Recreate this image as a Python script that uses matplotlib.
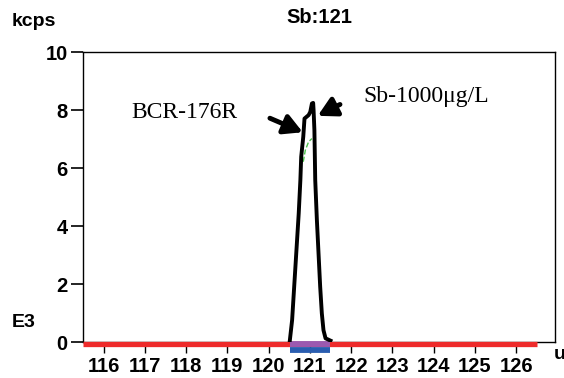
import numpy as np
import matplotlib
matplotlib.use('Agg')
import matplotlib.pyplot as plt

# Dados (massa em u, sinal em kcps x E3)
massa = [120.51, 120.57, 120.61, 120.65, 120.69, 120.73, 120.77, 120.79, 120.84, 120.87,
         120.97, 121.01, 121.05, 121.08, 121.09, 121.11, 121.13, 121.17, 121.21, 121.25,
         121.29, 121.33, 121.38, 121.50]
sinal = [0.0, 0.76, 1.68, 2.60, 3.52, 4.44, 5.59, 6.39, 7.08, 7.71,
         7.83, 7.94, 8.23, 8.25, 8.00, 7.31, 5.59, 4.21, 3.06, 1.91,
         0.99, 0.41, 0.13, 0.05]

# Traço verde parcialmente escondido
massa_verde = [120.84, 120.89, 120.97, 121.05]
sinal_verde = [6.22, 6.62, 6.91, 7.02]
massa_verde2 = [121.09, 121.09]
sinal_verde2 = [6.56, 6.37]

faixa_linha_base = [115.5, 126.5]
faixa_pico = [120.51, 121.5]

xticks = list(range(116, 127))
yticks = [0, 2, 4, 6, 8, 10]

fonte = 'Liberation Sans'
serif = 'Liberation Serif'

fig = plt.figure(figsize=(5.64, 3.78), dpi=100)
ax = fig.add_axes([0.147, 0.095, 0.837, 0.767])

# Linha de base vermelha e barras da janela de integração
ax.plot(faixa_linha_base, [-0.05, -0.05], color='#ee2b2b', lw=3.8, solid_capstyle='butt', clip_on=False, zorder=3)
ax.plot(faixa_pico, [-0.05, -0.05], color='#9b59b0', lw=4.2, solid_capstyle='butt', clip_on=False, zorder=4)
ax.plot(faixa_pico, [-0.27, -0.27], color='#2a5db0', lw=4.2, solid_capstyle='butt', clip_on=False, zorder=4)

# Pico
ax.plot(massa, sinal, color='black', lw=2.8, zorder=5)
ax.plot(massa_verde, sinal_verde, color='#4cc24c', lw=1, ls='--', zorder=4)
ax.plot(massa_verde2, sinal_verde2, color='#4cc24c', lw=1, zorder=4)

ax.set_xlim(115.5, 126.94)
ax.set_ylim(0, 10)
ax.set_xticks(xticks)
ax.set_yticks(yticks)
ax.set_xticklabels([str(t) for t in xticks], fontfamily=fonte, fontweight='bold', fontsize=14.5)
ax.set_yticklabels([str(t) for t in yticks], fontfamily=fonte, fontweight='bold', fontsize=14.5)
ax.tick_params(axis='y', direction='out', length=9, width=1.2, pad=2)
ax.tick_params(axis='x', direction='out', length=8, width=1, pad=3)
for s in ax.spines.values():
    s.set_linewidth(1)

ax.set_title('Sb:121', fontfamily=fonte, fontweight='bold', fontsize=14.5, pad=21)

# Setas e anotações
seta = dict(arrowstyle='-|>,head_length=1.1,head_width=0.6', color='black', lw=3.5)
ax.annotate('', xy=(120.89, 7.2), xytext=(119.97, 7.76), arrowprops=seta)
ax.annotate('', xy=(121.13, 7.76), xytext=(121.79, 8.24), arrowprops=seta)
ax.text(117.95, 7.93, 'BCR-176R', fontfamily=serif, fontsize=17, ha='center', va='center')
ax.text(123.81, 8.48, 'Sb-1000μg/L', fontfamily=serif, fontsize=17, ha='center', va='center')

fig.text(0.021, 0.942, 'kcps', fontfamily=fonte, fontweight='bold', fontsize=14, va='center')
fig.text(0.021, 0.148, 'E3', fontfamily=fonte, fontweight='bold', fontsize=14, va='center')
fig.text(0.981, 0.061, 'u', fontfamily=fonte, fontweight='bold', fontsize=14, va='center')

fig.savefig('out.png', dpi=100)
